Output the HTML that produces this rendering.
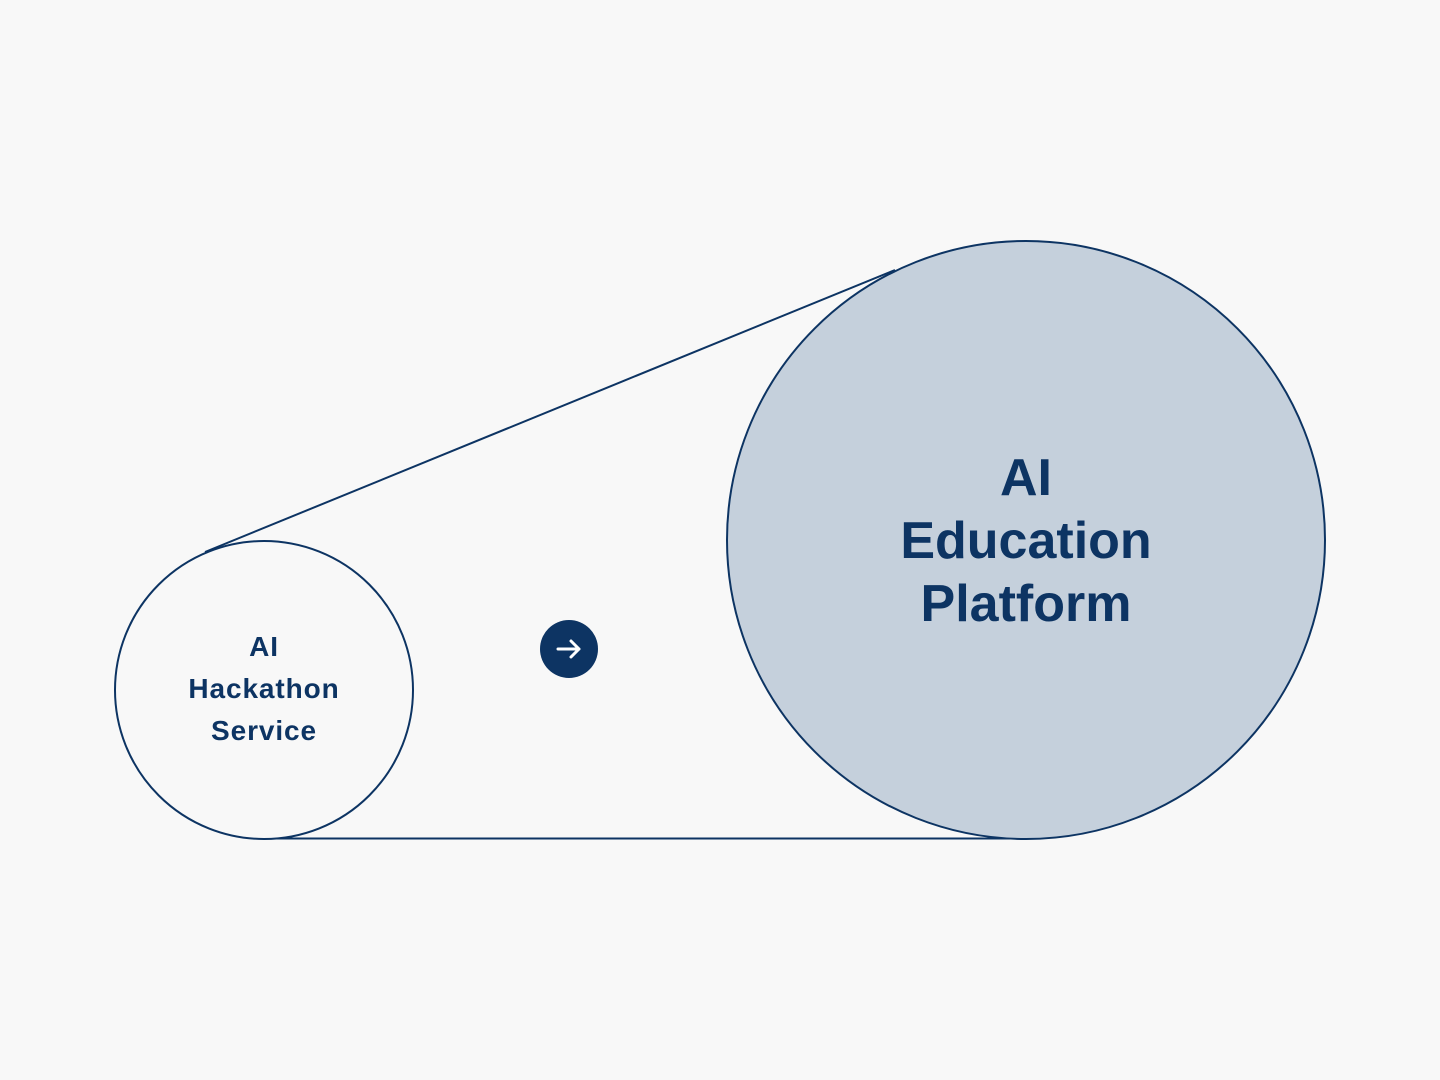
<!DOCTYPE html>
<html><head><meta charset="utf-8"><style>
html,body{margin:0;padding:0;background:#f8f8f8;}
svg{display:block;}
text{font-family:"Liberation Sans",sans-serif;font-weight:bold;fill:#0d3463;text-anchor:middle;}
</style></head><body>
<svg width="1440" height="1080" viewBox="0 0 1440 1080">
<rect width="1440" height="1080" fill="#f8f8f8"/>
<line x1="205" y1="552" x2="895" y2="270" stroke="#0d3463" stroke-width="2"/>
<line x1="264" y1="838.5" x2="1026" y2="838.5" stroke="#0d3463" stroke-width="2"/>
<circle cx="1026" cy="540" r="299" fill="#c5d0dc" stroke="#0d3463" stroke-width="2"/>
<circle cx="264" cy="690" r="149" fill="#f8f8f8" stroke="#0d3463" stroke-width="2"/>
<circle cx="569" cy="649" r="29" fill="#0d3463"/>
<path d="M558 649 H579 M571 641 L579 649 L571 657" stroke="#fff" stroke-width="3" fill="none" stroke-linecap="round" stroke-linejoin="round"/>
<g font-size="28" letter-spacing="0.9">
<text x="264" y="656">AI</text>
<text x="264" y="698">Hackathon</text>
<text x="264" y="740">Service</text>
</g>
<text x="1026" y="495" font-size="52">AI</text>
<text x="1026" y="558" font-size="52">Education</text>
<text x="1026" y="621" font-size="52">Platform</text>
</svg>
</body></html>
